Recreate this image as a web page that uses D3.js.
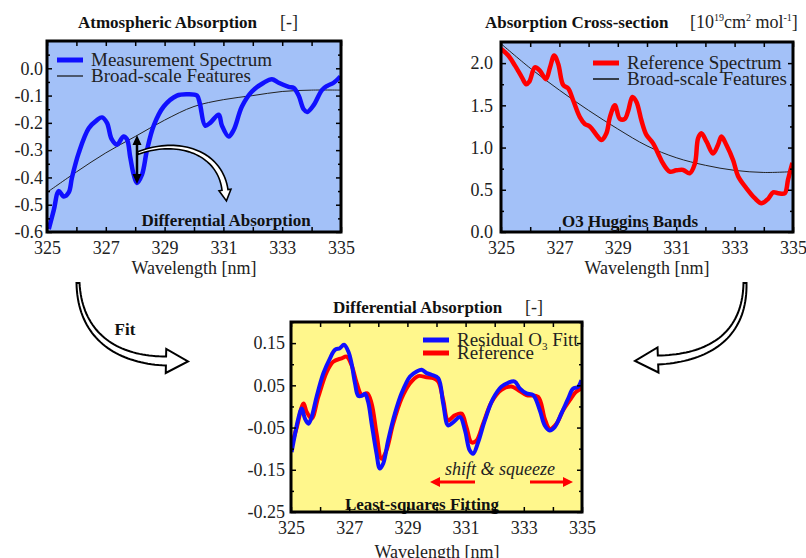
<!DOCTYPE html>
<html>
<head>
<meta charset="utf-8">
<script src="https://cdn.jsdelivr.net/npm/d3@7"></script>
<style>
  body { margin: 0; background: #fff; }
  svg { display: block; }
</style>
</head>
<body>
<script>
// wavelength ticks shared by all three panels
var xTicks = [325, 326, 327, 328, 329, 330, 331, 332, 333, 334, 335];
var xTickLabels = [325, 327, 329, 331, 333, 335];

// --- panel 1: atmospheric absorption
var wl1 = [325.06, 325.23, 325.4, 325.57, 325.74, 325.85, 326.08, 326.42, 326.7, 326.87, 327.04, 327.2, 327.38, 327.6, 327.72, 327.83, 327.95, 328.06, 328.23, 328.4, 328.63, 328.97, 329.42, 329.76, 330.1, 330.2, 330.38, 330.55, 330.84, 330.95, 331.18, 331.35, 331.63, 331.97, 332.37, 332.65, 332.88, 333.22, 333.39, 333.56, 333.73, 333.85, 334.07, 334.35, 334.52, 334.75, 334.98];
var meas1 = [-0.59, -0.52, -0.45, -0.47, -0.455, -0.40, -0.31, -0.22, -0.19, -0.18, -0.20, -0.26, -0.28, -0.25, -0.26, -0.325, -0.39, -0.42, -0.39, -0.30, -0.21, -0.14, -0.10, -0.095, -0.10, -0.13, -0.21, -0.20, -0.17, -0.21, -0.25, -0.226, -0.14, -0.085, -0.053, -0.04, -0.053, -0.068, -0.072, -0.10, -0.15, -0.16, -0.135, -0.08, -0.065, -0.053, -0.03];
var broad1 = [-0.455, -0.38, -0.31, -0.25, -0.19, -0.14, -0.115, -0.10, -0.085, -0.08, -0.08];
var y1Ticks = [0.0, -0.1, -0.2, -0.3, -0.4, -0.5, -0.6];
var y1Minor = [0.05, -0.05, -0.15, -0.25, -0.35, -0.45, -0.55];

// --- panel 2: O3 cross-section
var wl2 = [325.0, 325.25, 325.48, 325.71, 325.86, 325.97, 326.16, 326.33, 326.54, 326.68, 326.82, 326.96, 327.13, 327.3, 327.47, 327.7, 327.87, 328.04, 328.27, 328.44, 328.61, 328.73, 328.9, 329.07, 329.24, 329.36, 329.5, 329.64, 329.81, 329.98, 330.21, 330.38, 330.55, 330.78, 331.0, 331.24, 331.46, 331.64, 331.75, 331.86, 332.04, 332.26, 332.43, 332.55, 332.72, 332.95, 333.12, 333.4, 333.69, 333.92, 334.14, 334.32, 334.49, 334.72, 334.83, 334.98];
var ref2 = [2.17, 2.09, 1.97, 1.835, 1.75, 1.78, 1.95, 1.91, 1.81, 1.95, 2.09, 1.99, 1.74, 1.70, 1.56, 1.36, 1.28, 1.25, 1.15, 1.09, 1.17, 1.36, 1.50, 1.34, 1.34, 1.44, 1.60, 1.54, 1.32, 1.15, 1.05, 0.93, 0.81, 0.715, 0.73, 0.735, 0.695, 0.81, 1.11, 1.17, 1.07, 0.93, 1.03, 1.13, 1.03, 0.85, 0.66, 0.52, 0.40, 0.34, 0.39, 0.47, 0.46, 0.46, 0.62, 0.82];
var broad2 = [2.23, 1.94, 1.68, 1.44, 1.22, 1.02, 0.88, 0.79, 0.73, 0.705, 0.715];
var y2Ticks = [0.0, 0.5, 1.0, 1.5, 2.0];
var y2Minor = [0.25, 0.75, 1.25, 1.75];

// --- panel 3: differential absorption fit
var wl3 = [325.02, 325.14, 325.25, 325.37, 325.48, 325.6, 325.71, 325.88, 326.11, 326.34, 326.51, 326.68, 326.82, 326.97, 327.08, 327.2, 327.31, 327.43, 327.54, 327.65, 327.77, 327.94, 328.05, 328.17, 328.34, 328.57, 328.8, 329.09, 329.32, 329.49, 329.66, 329.83, 330.06, 330.23, 330.4, 330.58, 330.81, 330.98, 331.14, 331.26, 331.43, 331.66, 331.94, 332.23, 332.46, 332.69, 332.86, 333.09, 333.32, 333.55, 333.72, 333.89, 334.06, 334.29, 334.52, 334.69, 334.86, 334.98];
var resid3 = [-0.108, -0.065, -0.029, -0.005, -0.029, -0.041, -0.025, 0.023, 0.078, 0.114, 0.134, 0.138, 0.146, 0.130, 0.102, 0.055, 0.025, 0.025, 0.03, 0.011, -0.04, -0.112, -0.147, -0.135, -0.080, -0.017, 0.031, 0.071, 0.083, 0.087, 0.079, 0.075, 0.067, 0.007, -0.045, -0.037, -0.025, -0.057, -0.104, -0.112, -0.085, -0.033, 0.018, 0.047, 0.056, 0.059, 0.043, 0.031, 0.027, -0.009, -0.045, -0.057, -0.049, -0.017, 0.018, 0.042, 0.046, 0.062];
var wl3r = [325.02, 325.2, 325.43, 325.54, 325.71, 325.94, 326.23, 326.45, 326.74, 326.91, 327.08, 327.26, 327.43, 327.62, 327.77, 327.94, 328.11, 328.28, 328.51, 328.8, 329.09, 329.37, 329.66, 329.89, 330.06, 330.23, 330.4, 330.63, 330.86, 331.03, 331.2, 331.37, 331.6, 331.89, 332.23, 332.57, 332.8, 333.09, 333.49, 333.72, 333.89, 334.12, 334.35, 334.58, 334.8, 335.0];
var ref3 = [-0.092, -0.049, 0.007, -0.013, -0.029, 0.023, 0.082, 0.106, 0.114, 0.118, 0.098, 0.055, 0.027, 0.031, 0.007, -0.064, -0.124, -0.104, -0.041, 0.019, 0.055, 0.072, 0.069, 0.067, 0.059, 0.015, -0.033, -0.021, -0.017, -0.049, -0.085, -0.081, -0.041, 0.01, 0.039, 0.047, 0.039, 0.027, 0.023, -0.029, -0.053, -0.041, -0.009, 0.015, 0.035, 0.043];
var y3Ticks = [0.15, 0.05, -0.05, -0.15, -0.25];
var y3Minor = [0.2, 0.1, 0.0, -0.1, -0.2];

var FONT = '"Liberation Serif", "Times New Roman", serif';
var width = 806, height = 558;
var BLUE_BG = "#a3c1f8", YELLOW_BG = "#fff78c";

var svg = d3.select("body").append("svg").attr("width", width).attr("height", height)
  .attr("font-family", FONT);

var defs = svg.append("defs");

function makePanel(id, x0, x1, y0, y1, yDomain, bg) {
  var x = d3.scaleLinear().domain([325, 335]).range([x0, x1]);
  var y = d3.scaleLinear().domain(yDomain).range([y1, y0]);
  svg.append("rect").attr("x", x0).attr("y", y0).attr("width", x1 - x0).attr("height", y1 - y0).attr("fill", bg);
  defs.append("clipPath").attr("id", "clip" + id)
    .append("rect").attr("x", x0).attr("y", y0).attr("width", x1 - x0).attr("height", y1 - y0);
  var g = svg.append("g").attr("clip-path", "url(#clip" + id + ")");
  return { x: x, y: y, g: g, x0: x0, x1: x1, y0: y0, y1: y1 };
}

function drawAxes(p, yMajor, yMinor, yFmt, yPad) {
  function style(sel) {
    sel.select(".domain").remove();
    sel.selectAll("line").attr("stroke", "#000").attr("stroke-width", 1.5);
    sel.selectAll("text").attr("fill", "#222").attr("font-size", 18).attr("font-family", FONT);
  }
  svg.append("g").attr("transform", "translate(0," + p.y1 + ")")
    .call(d3.axisBottom(p.x).tickValues(xTicks).tickSize(-5).tickPadding(9)
      .tickFormat(function (d) { return xTickLabels.indexOf(d) >= 0 ? d : ""; }))
    .call(style);
  svg.append("g").attr("transform", "translate(0," + p.y0 + ")")
    .call(d3.axisTop(p.x).tickValues(xTicks).tickSize(-5).tickFormat(""))
    .call(style);
  svg.append("g").attr("transform", "translate(" + p.x0 + ",0)")
    .call(d3.axisLeft(p.y).tickValues(yMajor).tickSize(-5).tickPadding(yPad).tickFormat(yFmt))
    .call(style);
  svg.append("g").attr("transform", "translate(" + p.x0 + ",0)")
    .call(d3.axisLeft(p.y).tickValues(yMinor).tickSize(-3).tickFormat(""))
    .call(style);
  svg.append("g").attr("transform", "translate(" + p.x1 + ",0)")
    .call(d3.axisRight(p.y).tickValues(yMajor).tickSize(-5).tickFormat(""))
    .call(style);
  svg.append("g").attr("transform", "translate(" + p.x1 + ",0)")
    .call(d3.axisRight(p.y).tickValues(yMinor).tickSize(-3).tickFormat(""))
    .call(style);
  svg.append("rect").attr("x", p.x0).attr("y", p.y0).attr("width", p.x1 - p.x0).attr("height", p.y1 - p.y0)
    .attr("fill", "none").attr("stroke", "#000").attr("stroke-width", 3);
}

function fmt(n) {
  return function (d) { return d.toFixed(n).replace("\u2212", "-"); };
}

function series(p, xs, ys, color, w) {
  var line = d3.line().x(function (d, i) { return p.x(xs[i]); }).y(function (d) { return p.y(d); })
    .curve(d3.curveCatmullRom.alpha(0.5));
  p.g.append("path").datum(ys).attr("d", line).attr("fill", "none")
    .attr("stroke", color).attr("stroke-width", w).attr("stroke-linejoin", "round");
}

function txt(x, y, s, opts) {
  opts = opts || {};
  return svg.append("text").attr("x", x).attr("y", y).text(s)
    .attr("font-size", opts.size || 18)
    .attr("font-weight", opts.bold ? "bold" : null)
    .attr("font-style", opts.italic ? "italic" : null)
    .attr("text-anchor", opts.anchor || "start")
    .attr("fill", opts.fill || (opts.bold ? "#111" : "#222"));
}

function legendRow(x, y, color, w, label) {
  svg.append("line").attr("x1", x).attr("x2", x + 26).attr("y1", y).attr("y2", y)
    .attr("stroke", color).attr("stroke-width", w);
  return txt(x + 34, y + 6, label, { size: 19 });
}

// cubic bezier helpers for the hand-drawn style arrows
function bez(p0, p1, p2, p3, t) {
  var u = 1 - t;
  return [u * u * u * p0[0] + 3 * u * u * t * p1[0] + 3 * u * t * t * p2[0] + t * t * t * p3[0],
          u * u * u * p0[1] + 3 * u * u * t * p1[1] + 3 * u * t * t * p2[1] + t * t * t * p3[1]];
}
function bezD(p0, p1, p2, p3, t) {
  var u = 1 - t;
  var dx = 3 * u * u * (p1[0] - p0[0]) + 6 * u * t * (p2[0] - p1[0]) + 3 * t * t * (p3[0] - p2[0]);
  var dy = 3 * u * u * (p1[1] - p0[1]) + 6 * u * t * (p2[1] - p1[1]) + 3 * t * t * (p3[1] - p2[1]);
  var l = Math.sqrt(dx * dx + dy * dy);
  return [dx / l, dy / l];
}
function hollowArrow(p0, p1, p2, p3, w0, w1, hw, hl, sw, fill) {
  var left = [], right = [];
  for (var i = 0; i <= 40; i++) {
    var t = i / 40, pt = bez(p0, p1, p2, p3, t), d = bezD(p0, p1, p2, p3, t);
    var w = (w0 + (w1 - w0) * t) / 2;
    left.push([pt[0] - d[1] * w, pt[1] + d[0] * w]);
    right.push([pt[0] + d[1] * w, pt[1] - d[0] * w]);
  }
  var d1 = bezD(p0, p1, p2, p3, 1);
  var headL = [p3[0] - d1[1] * hw / 2, p3[1] + d1[0] * hw / 2];
  var headR = [p3[0] + d1[1] * hw / 2, p3[1] - d1[0] * hw / 2];
  var tip = [p3[0] + d1[0] * hl, p3[1] + d1[1] * hl];
  var pts = left.concat([headL, tip, headR], right.reverse());
  svg.append("path").attr("d", d3.line()(pts) + "Z")
    .attr("fill", fill).attr("stroke", "#000").attr("stroke-width", sw).attr("stroke-linejoin", "miter");
}

// ---------------- panel 1
var p1 = makePanel(1, 47, 341, 41, 232, [-0.6, 0.1], BLUE_BG);
series(p1, xTicks, broad1, "#222", 1);
series(p1, wl1, meas1, "#1010ff", 4.5);
drawAxes(p1, y1Ticks, y1Minor, fmt(1), 4);
legendRow(57, 60, "#1010ff", 5, "Measurement Spectrum");
legendRow(57, 76, "#111", 1.2, "Broad-scale Features");
txt(78, 28, "Atmospheric Absorption", { size: 17, bold: true });
txt(280, 28, "[-]");
txt(226, 226, "Differential Absorption", { size: 17, bold: true, anchor: "middle" });
txt(194, 274, "Wavelength [nm]", { anchor: "middle" });

// vertical double arrow between broad and measured
svg.append("line").attr("x1", 137).attr("x2", 137).attr("y1", 142).attr("y2", 176)
  .attr("stroke", "#000").attr("stroke-width", 2.5);
svg.append("path").attr("d", "M137,135 L132.5,145 L141.5,145 Z M137,184 L132.5,174 L141.5,174 Z").attr("fill", "#000");
hollowArrow([138, 153], [178, 138], [220, 152], [225, 190], 2.5, 6, 12, 11, 1.6, "#fff");

// ---------------- panel 2
var p2 = makePanel(2, 501, 793, 42, 232, [0, 2.25], BLUE_BG);
series(p2, xTicks, broad2, "#222", 1);
series(p2, wl2, ref2, "#ff0000", 4.5);
drawAxes(p2, y2Ticks, y2Minor, fmt(1), 8);
legendRow(593, 63, "#ff0000", 5, "Reference Spectrum");
legendRow(593, 79, "#111", 1.5, "Broad-scale Features");
txt(485, 28, "Absorption Cross-section", { size: 17, bold: true });
var unit = txt(690, 28, "[10");
unit.append("tspan").attr("font-size", 10).attr("dy", -7).text("19");
unit.append("tspan").attr("dy", 7).text("cm");
unit.append("tspan").attr("font-size", 10).attr("dy", -7).text("2");
unit.append("tspan").attr("dy", 7).text(" mol");
unit.append("tspan").attr("font-size", 10).attr("dy", -7).text("-1");
unit.append("tspan").attr("dy", 7).text("]");
txt(630, 227, "O3 Huggins Bands", { size: 17, bold: true, anchor: "middle" });
txt(647, 274, "Wavelength [nm]", { anchor: "middle" });

// ---------------- panel 3
var p3 = makePanel(3, 291, 582, 322, 512, [-0.25, 0.2], YELLOW_BG);
series(p3, wl3r, ref3, "#ff0000", 4);
series(p3, wl3, resid3, "#1010ff", 4);
txt(422, 510, "Least-squares Fitting", { size: 17, bold: true, anchor: "middle" });
drawAxes(p3, y3Ticks, y3Minor, fmt(2), 6);
var lg = legendRow(423, 340, "#1010ff", 5, "Residual O");
lg.append("tspan").attr("font-size", 11).attr("dy", 4).text("3");
lg.append("tspan").attr("dy", -4).text(" Fitt");
legendRow(423, 353, "#ff0000", 5, "Reference");
txt(333, 313, "Differential Absorption", { size: 17, bold: true });
txt(525, 313, "[-]");
txt(445, 475, "shift & squeeze", { italic: true });
txt(437, 558, "Wavelength [nm]", { anchor: "middle" });

// red shift arrows
svg.append("line").attr("x1", 475).attr("x2", 438).attr("y1", 482).attr("y2", 482).attr("stroke", "#f00").attr("stroke-width", 3);
svg.append("path").attr("d", "M430,482 L440,477 L440,487 Z").attr("fill", "#f00");
svg.append("line").attr("x1", 530).attr("x2", 565).attr("y1", 482).attr("y2", 482).attr("stroke", "#f00").attr("stroke-width", 3);
svg.append("path").attr("d", "M573,482 L563,477 L563,487 Z").attr("fill", "#f00");

// ---------------- big "Fit" arrows
hollowArrow([78, 283], [80, 337], [118, 360], [166, 361], 3, 9, 24, 22, 2, "#fff");
txt(125, 335, "Fit", { size: 17, bold: true, anchor: "middle" });
hollowArrow([745, 283], [745, 335], [710, 358], [658, 360], 3, 9, 25, 23, 2, "#fff");
</script>
</body>
</html>
